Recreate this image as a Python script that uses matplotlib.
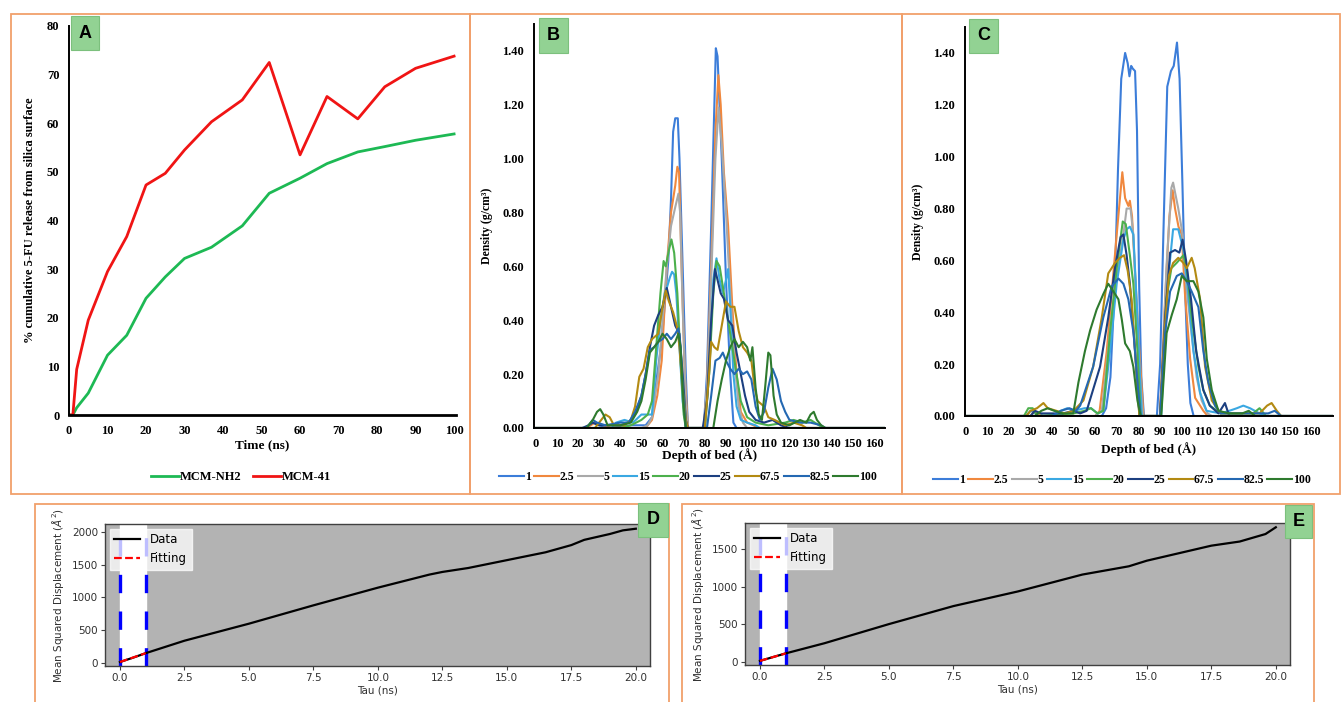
import matplotlib
matplotlib.use("Agg")
import matplotlib.pyplot as plt
from matplotlib.patches import Rectangle

W, H = 1342, 702

def box(l, t, r, b):
    # pixel box -> figure fraction [left, bottom, width, height]
    return [l / W, 1 - b / H, (r - l) / W, (b - t) / H]

####################################################################################
### Data
####################################################################################

# panel A: cumulative release (%)
time_ns = [0, 1, 2, 5, 10, 15, 20, 25, 30, 37, 45, 52, 60, 67, 75, 82, 90, 100]
mcm_nh2 = [0, 0, 1.5, 4.5, 12.3, 16.4, 24.0, 28.4, 32.2, 34.5, 38.9, 45.6, 48.7, 51.7, 54.1, 55.2, 56.5, 57.8]
mcm_41 = [0, 0, 9.4, 19.5, 29.5, 36.7, 47.3, 49.7, 54.5, 60.3, 64.8, 72.5, 53.5, 65.5, 60.9, 67.5, 71.3, 73.8]

# panels B and C: density profiles, one list of (depth, density) per time
series_names = ['1', '2.5', '5', '15', '20', '25', '67.5', '82.5', '100']
series_colors = ['#3C7DD9', '#F0883E', '#A9A9A9', '#3AA8E2', '#4CB04C',
                 '#1C3F80', '#B38A12', '#2468B2', '#2E7A2E']

B_1 = [(0, 0), (24, 0), (27, 0.02), (30, 0.01), (35, 0), (45, 0.01), (52, 0.01), (55, 0.04),
       (57.5, 0.2), (59.6, 0.32), (62.7, 0.62), (64, 0.85), (65, 1.1), (66, 1.15), (67.2, 1.15),
       (68, 1.0), (69.5, 0.6), (71, 0.2), (72, 0), (79.5, 0), (81, 0.2), (83, 0.75), (84.5, 1.2),
       (85.2, 1.41), (86, 1.38), (88, 1.0), (90, 0.55), (92, 0.2), (93.5, 0.02), (95, 0), (165, 0)]
B_2_5 = [(0, 0), (24, 0), (28, 0.02), (32, 0.01), (36, 0), (52, 0), (55, 0.03), (57.5, 0.12),
         (59.6, 0.25), (62, 0.6), (64, 0.8), (66, 0.9), (67, 0.97), (67.8, 0.95), (69, 0.6),
         (70.5, 0.2), (72, 0), (79.5, 0), (81, 0.15), (83, 0.6), (85, 1.1), (86.4, 1.31),
         (87.5, 1.2), (89, 0.95), (91, 0.75), (93, 0.45), (95, 0.2), (97, 0.06), (100, 0.02),
         (103, 0.01), (105, 0), (165, 0)]
B_5 = [(0, 0), (50, 0), (53, 0.01), (55, 0.04), (58, 0.2), (60, 0.4), (62, 0.6), (64, 0.75),
       (66, 0.82), (67.5, 0.87), (68.3, 0.8), (69.5, 0.45), (71, 0.1), (72, 0), (79.5, 0),
       (81, 0.15), (83, 0.55), (85, 1.0), (86.5, 1.19), (88, 1.05), (90, 0.8), (92, 0.5),
       (94, 0.25), (96, 0.08), (98, 0.02), (100, 0), (165, 0)]
B_15 = [(0, 0), (36, 0), (38, 0.02), (42, 0.03), (46, 0.02), (50, 0.05), (53, 0.05), (55, 0.05),
        (57, 0.25), (59, 0.4), (61, 0.5), (62, 0.52), (63.5, 0.56), (64.5, 0.58), (65.5, 0.57),
        (66.5, 0.5), (68, 0.3), (69.5, 0.1), (71, 0), (80, 0), (82, 0.2), (84, 0.55), (85.5, 0.63),
        (87, 0.55), (88.5, 0.5), (90, 0.55), (91, 0.59), (92, 0.45), (93.5, 0.2), (95, 0.08),
        (97, 0.03), (100, 0.02), (104, 0.01), (106, 0), (165, 0)]
B_20 = [(0, 0), (40, 0), (45, 0.01), (50, 0.03), (53, 0.05), (55, 0.1), (57, 0.3), (59, 0.5),
        (60.5, 0.62), (61.5, 0.6), (63, 0.66), (64.2, 0.70), (65.5, 0.65), (67, 0.5), (68.5, 0.25),
        (70, 0.05), (71, 0), (80, 0), (82, 0.2), (84, 0.5), (85.5, 0.62), (87, 0.6), (89, 0.5),
        (91, 0.4), (93, 0.3), (95, 0.2), (97, 0.1), (100, 0.04), (104, 0.02), (110, 0.01),
        (118, 0.02), (122, 0.03), (126, 0.02), (130, 0.03), (134, 0.01), (136, 0), (165, 0)]
B_25 = [(0, 0), (22, 0), (25, 0.01), (27, 0.02), (30, 0.01), (40, 0.01), (44, 0.02), (47, 0.05),
        (50, 0.12), (52, 0.2), (54, 0.3), (56, 0.38), (58, 0.42), (60, 0.45), (62, 0.52),
        (64, 0.45), (66, 0.38), (68, 0.35), (69.5, 0.2), (71, 0.03), (72, 0), (79, 0), (81, 0.1),
        (83, 0.4), (84.8, 0.59), (86, 0.55), (87.5, 0.5), (89, 0.48), (91, 0.4), (93, 0.38),
        (95, 0.28), (97, 0.2), (99, 0.12), (101, 0.06), (104, 0.03), (108, 0.02), (112, 0.03),
        (116, 0.01), (120, 0), (165, 0)]
B_67_5 = [(0, 0), (28, 0), (31, 0.03), (33, 0.05), (35, 0.04), (37, 0.01), (42, 0.01), (45, 0.03),
          (47, 0.08), (49, 0.19), (51, 0.22), (53, 0.3), (55, 0.33), (58, 0.35), (60, 0.45),
          (61.5, 0.51), (63, 0.47), (65, 0.43), (67, 0.37), (68, 0.3), (69.5, 0.15), (71, 0.03),
          (72, 0), (80, 0), (82, 0.2), (83, 0.32), (84.5, 0.3), (86, 0.29), (88, 0.38), (90, 0.47),
          (92, 0.45), (94, 0.45), (96, 0.36), (98, 0.3), (100, 0.28), (102, 0.25), (103.5, 0.15),
          (105, 0.1), (108, 0.08), (110, 0.04), (113, 0.03), (118, 0.01), (122, 0.02),
          (126, 0.01), (128, 0), (165, 0)]
B_82_5 = [(0, 0), (24, 0), (27, 0.03), (29, 0.02), (33, 0.01), (40, 0.02), (44, 0.02), (47, 0.06),
          (50, 0.12), (52, 0.2), (54, 0.29), (56, 0.3), (58, 0.32), (60, 0.33), (62, 0.35),
          (64, 0.33), (66, 0.35), (67.5, 0.37), (68.5, 0.3), (70, 0.1), (71, 0), (81, 0),
          (83, 0.12), (85, 0.25), (87, 0.26), (88.5, 0.28), (90, 0.25), (92, 0.22), (94, 0.2),
          (96, 0.22), (98, 0.2), (100, 0.21), (102, 0.18), (104, 0.08), (106, 0.03), (108, 0.06),
          (110, 0.15), (112, 0.22), (114, 0.18), (116, 0.1), (118, 0.06), (120, 0.03),
          (125, 0.02), (130, 0.02), (135, 0.01), (137, 0), (165, 0)]
B_100 = [(0, 0), (24, 0), (27, 0.03), (29, 0.06), (30.5, 0.07), (32, 0.05), (34, 0.01), (40, 0.01),
         (45, 0.02), (48, 0.06), (50, 0.1), (52, 0.18), (54, 0.28), (56, 0.3), (58, 0.32),
         (60, 0.35), (62, 0.33), (64, 0.3), (66, 0.32), (67.5, 0.35), (68.5, 0.3), (70, 0.08),
         (71, 0), (84, 0), (86, 0.1), (88, 0.18), (90, 0.25), (92, 0.3), (94, 0.33), (96, 0.3),
         (98, 0.32), (100, 0.3), (101.5, 0.25), (102.5, 0.3), (104, 0.15), (105.5, 0.05),
         (107, 0.03), (108.5, 0.15), (110, 0.28), (111, 0.27), (112.5, 0.12), (114, 0.05),
         (116, 0.02), (120, 0.01), (125, 0.03), (128, 0.02), (130, 0.05), (131.5, 0.06),
         (133, 0.03), (135, 0.01), (137, 0), (165, 0)]

C_1 = [(0, 0), (28, 0), (30, 0.02), (33, 0.01), (36, 0), (63, 0), (65, 0.03), (67, 0.15),
       (69, 0.5), (70.5, 0.95), (72, 1.3), (73.8, 1.40), (75, 1.36), (75.8, 1.31), (76.6, 1.35),
       (77.3, 1.34), (78.4, 1.33), (79.3, 1.1), (80.3, 0.5), (81.3, 0.15), (82.5, 0), (88.5, 0),
       (90, 0.2), (91.5, 0.7), (93.3, 1.27), (95, 1.33), (96.3, 1.35), (97.8, 1.44), (99, 1.3),
       (100.3, 0.9), (101.5, 0.5), (102.8, 0.2), (104, 0.05), (105.5, 0), (170, 0)]
C_2_5 = [(0, 0), (30, 0), (32, 0.02), (35, 0), (60, 0), (62, 0.02), (65.3, 0.25), (69.9, 0.7),
         (72.5, 0.94), (73.8, 0.84), (75.3, 0.81), (76, 0.83), (77, 0.77), (79.9, 0.32), (82.3, 0),
         (89.9, 0), (92.3, 0.45), (94.3, 0.77), (95.8, 0.87), (96.9, 0.8), (98.5, 0.73),
         (100, 0.7), (101.5, 0.47), (103.9, 0.22), (106.2, 0.07), (110, 0.02), (112, 0), (170, 0)]
C_5 = [(0, 0), (60, 0), (63, 0.02), (68.4, 0.45), (73, 0.7), (74.5, 0.8), (76.3, 0.8), (77.6, 0.7),
       (79.9, 0.25), (82, 0), (90.3, 0), (92.9, 0.57), (95.2, 0.88), (96, 0.9), (98.4, 0.8),
       (100.4, 0.7), (102, 0.51), (104.5, 0.32), (106.9, 0.15), (109.2, 0.06), (112, 0.01),
       (114, 0), (170, 0)]
C_15 = [(0, 0), (40, 0), (44, 0.02), (47, 0.03), (50, 0.02), (55, 0.03), (58, 0.03), (61, 0.01),
        (63.7, 0.02), (66.8, 0.25), (69.9, 0.51), (73, 0.68), (74.5, 0.72), (76, 0.73), (77.6, 0.7),
        (79.5, 0.38), (81.5, 0), (90.5, 0), (93.5, 0.51), (96, 0.72), (98.4, 0.72), (100.8, 0.64),
        (102.6, 0.51), (105.4, 0.25), (108.5, 0.09), (111.5, 0.02), (118, 0.01), (122, 0.02),
        (125.5, 0.03), (128.5, 0.04), (131.6, 0.03), (136, 0.01), (139, 0), (170, 0)]
C_20 = [(0, 0), (27, 0), (29, 0.03), (31, 0.03), (33, 0), (50, 0.01), (55, 0.02), (58, 0.03),
        (61, 0.01), (63.7, 0.02), (66.8, 0.32), (69.9, 0.57), (72.7, 0.75), (74.1, 0.74),
        (76, 0.62), (77.6, 0.51), (79.5, 0.25), (81, 0), (90.3, 0), (92.9, 0.45), (95.2, 0.57),
        (97.6, 0.59), (100.8, 0.62), (102.3, 0.57), (104.6, 0.38), (107.7, 0.19), (110, 0.1),
        (113, 0.04), (118, 0.01), (133, 0.01), (136, 0.03), (139, 0), (170, 0)]
C_25 = [(0, 0), (30, 0), (32, 0.02), (35, 0.01), (45, 0.01), (50, 0.02), (53, 0.01), (56, 0.02),
        (62.2, 0.19), (66, 0.38), (69.1, 0.57), (71.7, 0.69), (73, 0.7), (74.5, 0.62), (76, 0.51),
        (78.4, 0.25), (80.4, 0), (89.9, 0), (92.3, 0.38), (94.6, 0.63), (96.9, 0.64), (98.9, 0.63),
        (100.4, 0.68), (102, 0.6), (104.3, 0.45), (106.7, 0.25), (110, 0.1), (113, 0.04),
        (117, 0.01), (120, 0.05), (122, 0), (170, 0)]
C_67_5 = [(0, 0), (28, 0), (30, 0.02), (33, 0.03), (36, 0.05), (38, 0.03), (42, 0.02), (46, 0.01),
          (50, 0.02), (54.5, 0.06), (59, 0.19), (63, 0.38), (66, 0.55), (69.1, 0.59), (71.4, 0.61),
          (73.3, 0.62), (75, 0.56), (76.8, 0.45), (78.4, 0.25), (80.4, 0), (90, 0), (92, 0.32),
          (94, 0.54), (96, 0.59), (98.4, 0.61), (100.8, 0.59), (102.3, 0.57), (104.6, 0.61),
          (106, 0.57), (108.5, 0.45), (110.8, 0.19), (113.9, 0.06), (118, 0.01), (136, 0.01),
          (139.5, 0.04), (141.6, 0.05), (144, 0.02), (146, 0), (170, 0)]
C_82_5 = [(0, 0), (40, 0), (44, 0.02), (48, 0.03), (51, 0.02), (53, 0.04), (59, 0.19),
          (63.7, 0.38), (67.6, 0.5), (70.7, 0.53), (73, 0.51), (75.3, 0.45), (77.7, 0.32),
          (79.5, 0.13), (81, 0), (90, 0), (92.3, 0.32), (94.6, 0.48), (97.7, 0.54), (100, 0.55),
          (102.3, 0.52), (104.6, 0.48), (107.7, 0.42), (110, 0.25), (112.3, 0.13), (115.4, 0.04),
          (118, 0.01), (140, 0.01), (143, 0.02), (146, 0), (170, 0)]
C_100 = [(0, 0), (32, 0), (35, 0.02), (38, 0.03), (41, 0.02), (45, 0.01), (49.8, 0.01),
         (52.2, 0.13), (55.2, 0.25), (57.6, 0.33), (60.6, 0.41), (63.7, 0.47), (66, 0.51),
         (68.4, 0.48), (70.7, 0.45), (72.3, 0.37), (73.8, 0.28), (76, 0.25), (77.6, 0.19),
         (79.5, 0.06), (81, 0), (90.5, 0), (93, 0.32), (95.4, 0.39), (97.7, 0.45), (100, 0.54),
         (102.3, 0.52), (105.4, 0.52), (107.7, 0.48), (110, 0.38), (111.6, 0.22), (113.9, 0.1),
         (117, 0.02), (122, 0.01), (128, 0.01), (131, 0.02), (134, 0), (170, 0)]

B_series = [B_1, B_2_5, B_5, B_15, B_20, B_25, B_67_5, B_82_5, B_100]
C_series = [C_1, C_2_5, C_5, C_15, C_20, C_25, C_67_5, C_82_5, C_100]

# panels D and E: mean squared displacement
tau_d = [0, 0.5, 1, 2.5, 5, 7.5, 10, 11, 12, 12.5, 13.5, 15, 16.5, 17.5, 18, 19, 19.5, 19.8, 20]
msd_d = [15, 80, 150, 340, 600, 880, 1150, 1250, 1350, 1390, 1450, 1570, 1690, 1800, 1880, 1970, 2025, 2040, 2050]
fit_tau_d = [0, 1]
fit_msd_d = [15, 150]

tau_e = [0, 0.5, 1, 2.5, 5, 7.5, 10, 12.5, 14.3, 15, 17.5, 18.6, 19.6, 20]
msd_e = [10, 60, 110, 245, 500, 740, 935, 1160, 1270, 1345, 1545, 1600, 1700, 1790]
fit_tau_e = [0, 1]
fit_msd_e = [10, 110]

####################################################################################
### Figure
####################################################################################

fig = plt.figure(figsize=(W / 100, H / 100), dpi=100)
fig.patch.set_facecolor('white')

frame_color = '#F1A06B'
for l, t, r, b in [(11, 14, 470, 494), (470, 14, 902, 494), (902, 14, 1340, 494),
                   (35, 504, 669, 712), (682, 504, 1314, 712)]:
    fig.add_artist(Rectangle((l / W, 1 - b / H), (r - l) / W, (b - t) / H,
                             transform=fig.transFigure, fill=False, ec=frame_color, lw=1.3))

serif = 'Liberation Serif'


def excel_axes(ax):
    for s in ['top', 'right']:
        ax.spines[s].set_visible(False)
    for s in ['left', 'bottom']:
        ax.spines[s].set_color('black')
        ax.spines[s].set_linewidth(1.4)
    ax.tick_params(axis='both', length=0, pad=7, labelsize=9, labelfontfamily=serif)
    for lab in ax.get_xticklabels() + ax.get_yticklabels():
        lab.set_fontweight('bold')


####################################################################################
### A
####################################################################################

ax_a = fig.add_axes(box(69, 26, 456, 415))
ax_a.plot(time_ns, mcm_nh2, color='#1DB954', lw=2, label='MCM-NH2')
ax_a.plot(time_ns, mcm_41, color='#F01414', lw=2, label='MCM-41')
ax_a.set_xlim(0, 100.5)
ax_a.set_ylim(0, 80)
ax_a.set_xticks(range(0, 101, 10))
ax_a.set_yticks(range(0, 81, 10))
excel_axes(ax_a)
ax_a.spines['bottom'].set_linewidth(2)
ax_a.set_xlabel('Time (ns)', fontfamily=serif, fontweight='bold', fontsize=9.5, labelpad=2)
ax_a.set_ylabel('% cumulative 5-FU release from silica surface', fontfamily=serif,
                fontweight='bold', fontsize=9, labelpad=8)
h, lb = ax_a.get_legend_handles_labels()
fig.legend(h, lb, loc='center', bbox_to_anchor=(241 / W, 1 - 477 / H), ncol=2, frameon=False,
           prop=dict(family=serif, weight='bold', size=9), handlelength=2.2, handletextpad=0.05,
           columnspacing=1.0)

####################################################################################
### B and C
####################################################################################

ax_b = fig.add_axes(box(534, 24, 885, 428))
ax_c = fig.add_axes(box(965, 27, 1333, 416))

for ax, series in [(ax_b, B_series), (ax_c, C_series)]:
    for name, pts, col in zip(series_names, series, series_colors):
        xs = [p[0] for p in pts]
        ys = [p[1] for p in pts]
        ax.plot(xs, ys, color=col, lw=1.5, label=name)
    ax.set_ylim(0, 1.5)
    ax.set_xticks(range(0, 161, 10))
    ax.set_yticks([0, 0.2, 0.4, 0.6, 0.8, 1.0, 1.2, 1.4])
    ax.set_yticklabels(['%.2f' % v for v in [0, 0.2, 0.4, 0.6, 0.8, 1.0, 1.2, 1.4]])
    excel_axes(ax)
    ax.set_ylabel('Density (g/cm³)', fontfamily=serif, fontweight='bold', fontsize=8.5, labelpad=7)

ax_b.set_xlim(-0.8, 165.2)
ax_c.set_xlim(-0.3, 170)
ax_b.set_xlabel('Depth of bed (Å)', fontfamily=serif, fontweight='bold', fontsize=9.5, labelpad=-1)
ax_c.set_xlabel('Depth of bed (Å)', fontfamily=serif, fontweight='bold', fontsize=9.5, labelpad=3)

for ax, cx, cy in [(ax_b, 688, 477), (ax_c, 1122, 480)]:
    h, lb = ax.get_legend_handles_labels()
    fig.legend(h, lb, loc='center', bbox_to_anchor=(cx / W, 1 - cy / H), ncol=9, frameon=False,
               prop=dict(family=serif, weight='bold', size=8.5), handlelength=2.1,
               handletextpad=0.05, columnspacing=0.3)

####################################################################################
### D and E
####################################################################################

ax_d = fig.add_axes(box(105, 524, 650, 666))
ax_e = fig.add_axes(box(745, 523, 1290, 665))

for ax, tau, msd, ft, fm in [(ax_d, tau_d, msd_d, fit_tau_d, fit_msd_d),
                             (ax_e, tau_e, msd_e, fit_tau_e, fit_msd_e)]:
    ax.set_facecolor('#B3B3B3')
    ax.axvspan(0, 1, color='white', zorder=1)
    ax.plot(tau, msd, color='black', lw=1.6, label='Data', zorder=3)
    ax.plot(ft, fm, color='red', lw=1.6, ls=(0, (3.5, 1.5)), label='Fitting', zorder=4)
    ax.axvline(0, color='blue', lw=2.4, ls=(0, (5.5, 5.5)), zorder=2)
    ax.axvline(1, color='blue', lw=2.4, ls=(0, (5.5, 5.5)), zorder=2)
    ax.set_xlim(-0.58, 20.55)
    ax.set_xticks([0, 2.5, 5, 7.5, 10, 12.5, 15, 17.5, 20])
    for s in ax.spines.values():
        s.set_color('#404040')
        s.set_linewidth(1)
    ax.tick_params(axis='both', labelsize=7.5, length=3, color='#404040', labelcolor='#303030', pad=2)
    ax.set_xlabel('Tau (ns)', fontsize=7.5, color='#303030', labelpad=2)
    ax.set_ylabel(r'Mean Squared Displacement ($\AA^2$)', fontsize=7.5, color='#303030', labelpad=4)
    leg = ax.legend(loc='upper left', fontsize=8.5, framealpha=0.75, edgecolor='white',
                    fancybox=False, handlelength=2.2, borderaxespad=0.4)
    leg.set_zorder(5)

ax_d.set_ylim(-46, 2122)
ax_d.set_yticks([0, 500, 1000, 1500, 2000])
ax_e.set_ylim(-45, 1847)
ax_e.set_yticks([0, 500, 1000, 1500])

####################################################################################
### panel letters
####################################################################################

for letter, (l, t, r, b) in [('A', (71, 16, 99, 50)), ('B', (539, 18, 568, 53)),
                             ('C', (969, 19, 998, 53)), ('D', (638, 503, 668, 537)),
                             ('E', (1285, 505, 1312, 538))]:
    fig.add_artist(Rectangle((l / W, 1 - b / H), (r - l) / W, (b - t) / H,
                             transform=fig.transFigure, fc='#92D293', ec='#7CC07D', lw=0.8,
                             zorder=10))
    fig.text((l + r) / 2 / W, 1 - (t + b) / 2 / H, letter, ha='center', va='center',
             fontsize=13, fontweight='bold', family='Liberation Sans', zorder=11)

fig.savefig('out.png', dpi=100)
